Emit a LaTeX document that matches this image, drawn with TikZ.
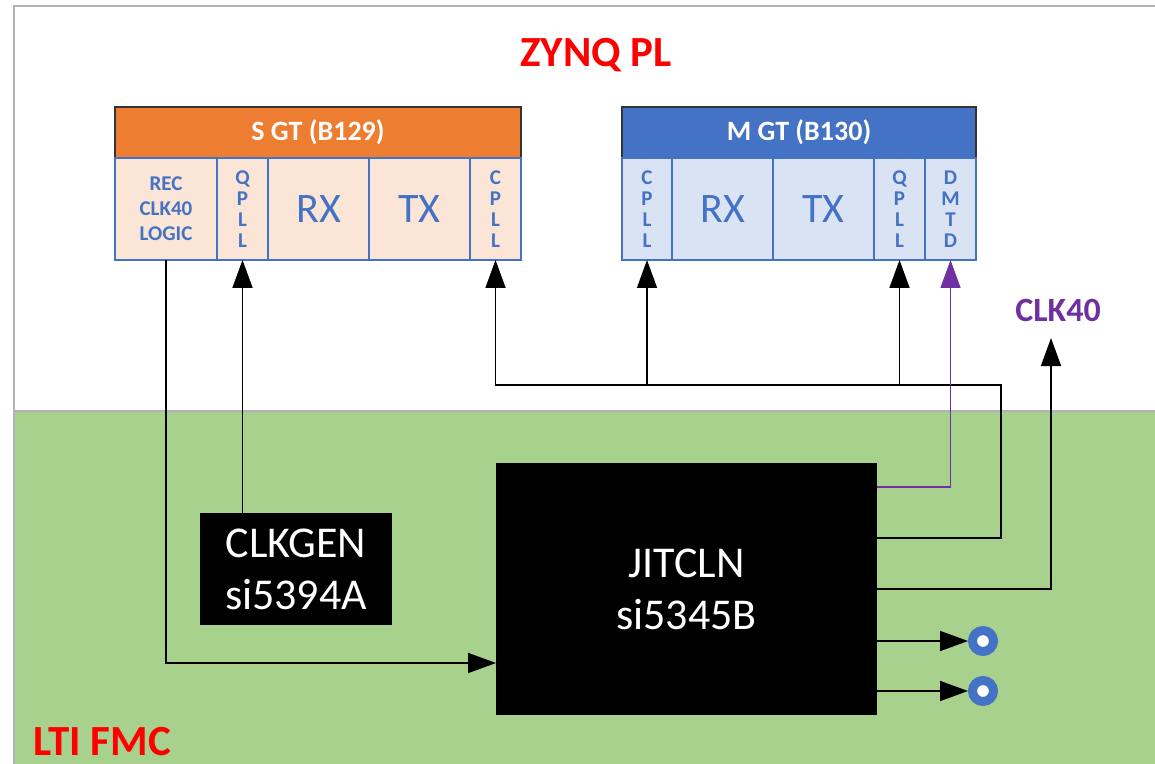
\documentclass[tikz,border=0pt]{standalone}
\usepackage{fontspec}
\setmainfont{Carlito}
\usetikzlibrary{arrows.meta}
\definecolor{gtorange}{HTML}{ED7D31}
\definecolor{gtblue}{HTML}{4472C4}
\definecolor{peach}{HTML}{FBE5D6}
\definecolor{paleblue}{HTML}{DAE3F3}
\definecolor{fmcgreen}{HTML}{A9D18E}
\definecolor{clkpurple}{HTML}{7030A0}
\tikzset{
  arr/.style={-{Triangle[length=14pt,width=10pt]}},
  cell/.style={draw=gtblue, line width=.7pt, text=gtblue, align=center,
    inner sep=0pt, outer sep=0pt, minimum height=51pt},
  tall/.style={font=\bfseries\fontsize{10.5}{10.5}\selectfont},
  big/.style={font=\fontsize{21}{22}\selectfont},
  recs/.style={font=\bfseries\fontsize{10.5}{12.5}\selectfont},
  head/.style={draw=black!80, line width=.6pt, text=white, inner sep=0pt, outer sep=0pt,
    minimum height=25.5pt, font=\bfseries\fontsize{14}{16}\selectfont},
  chip/.style={fill=black, text=white, align=center, inner sep=0pt, outer sep=0pt,
    font=\fontsize{22}{26}\selectfont},
  port/.style={circle, draw=gtblue, line width=4.5pt, fill=white, inner sep=0pt,
    minimum size=10.5pt},
  zone/.style={text=red, font=\bfseries\fontsize{21.5}{24}\selectfont}
}
\begin{document}
\begin{tikzpicture}[x=.5pt,y=-.5pt, line width=.8pt]
  \useasboundingbox (0,0) rectangle (1155,764);
  % board areas
  \fill[fmcgreen] (14,411) rectangle (1155,764);
  \draw[black!30, line width=1pt] (1155,6) -- (14,6) -- (14,764);
  \draw[black!30, line width=1pt] (14,411) -- (1155,411);
  \node[zone] (pl) at (596,55) {ZYNQ PL};
  \node[zone, anchor=west] (fmc) at (26,742) {LTI FMC};
  % S GT bank
  \node[head, fill=gtorange, minimum width=203pt] (sgt) at (318,132.5) {S GT (B129)};
  \foreach \n/\a/\b/\s/\t in {rec/115/217/recs/{REC\\CLK40\\LOGIC}, sq/217/268/tall/{Q\\P\\L\\L},
      srx/268/369/big/RX, stx/369/470/big/TX, scp/470/521/tall/{C\\P\\L\\L}} {
    \node[cell, \s, fill=peach, minimum width={(\b-\a)*.5pt}] (\n) at ({(\a+\b)/2},209) {\t};
  }
  % M GT bank
  \node[head, fill=gtblue, minimum width=177pt] (mgt) at (799,132.5) {M GT (B130)};
  \foreach \n/\a/\b/\s/\t in {mcp/622/672/tall/{C\\P\\L\\L}, mrx/672/773/big/RX,
      mtx/773/874/big/TX, mq/874/925/tall/{Q\\P\\L\\L}, dm/925/976/tall/{D\\M\\T\\D}} {
    \node[cell, \s, fill=paleblue, minimum width={(\b-\a)*.5pt}] (\n) at ({(\a+\b)/2},209) {\t};
  }
  % clock chips
  \node[chip, minimum width=96pt, minimum height=56pt] (gen) at (296,569) {CLKGEN\\si5394A};
  \node[chip, minimum width=190.5pt, minimum height=126pt] (jit) at (686.5,589) {JITCLN\\si5345B};
  \coordinate (jin) at ([yshift=26pt]jit.south west);
  \coordinate (jo1) at ([yshift=-12pt]jit.north east);
  \coordinate (jo2) at ([yshift=-37.5pt]jit.north east);
  \coordinate (bus) at (1001,385);
  \coordinate (clk) at (1051,338);
  % connections
  \draw[arr] (rec.south) |- (jin);
  \draw[arr] (gen.north -| sq.south) -- (sq.south);
  \draw[arr] (jo2) -| (bus) -| (scp.south);
  \draw[arr] (bus -| mcp.south) -- (mcp.south);
  \draw[arr] (bus -| mq.south) -- (mq.south);
  \draw[arr, clkpurple] (jo1) -| (dm.south);
  \draw[arr] (jit.east) -| (clk);
  \node[text=clkpurple, font=\bfseries\fontsize{17}{20}\selectfont] (clklbl) at (1058,310) {CLK40};
  \foreach \i/\y in {1/641,2/691} {
    \node[port] (out\i) at (983,\y) {};
    \draw[arr] (jit.east |- out\i) -- (out\i);
  }
\end{tikzpicture}
\end{document}
